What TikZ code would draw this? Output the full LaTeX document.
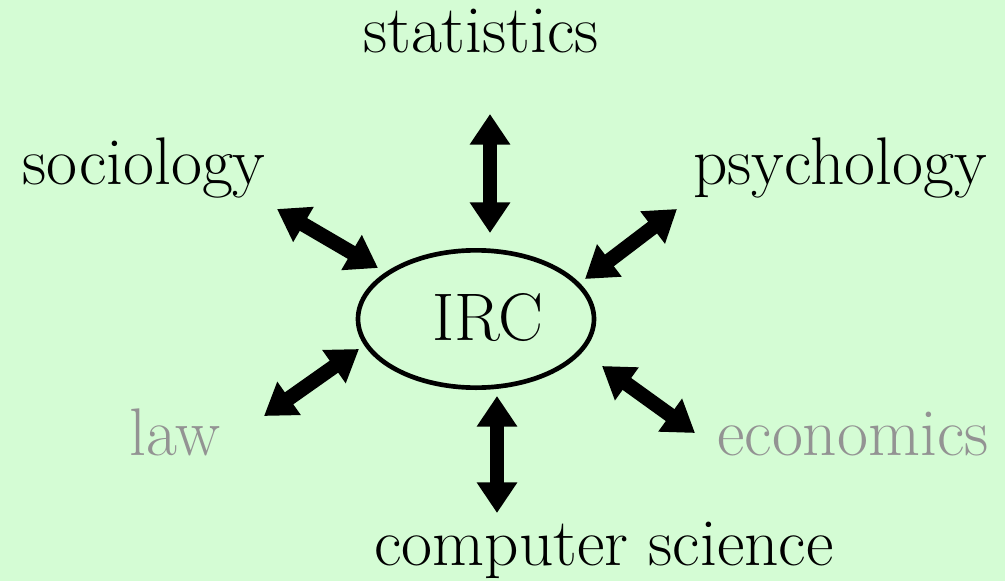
\documentclass[tikz,border=0pt]{standalone}
\usepackage{fontspec}
\usetikzlibrary{arrows.meta,shapes.geometric}
\definecolor{paper}{HTML}{D4FCD4}
\definecolor{faded}{HTML}{939393}
\tikzset{field/.style={font=\fontsize{50.5}{54}\selectfont,anchor=base,inner sep=0pt},dim/.style={field,text=faded},hub/.style={draw,ellipse,line width=3.5pt,minimum width=177pt,minimum height=103pt,inner sep=0pt},link/.style={{Triangle[length=23pt,width=29pt]}-{Triangle[length=23pt,width=29pt]},line width=11pt}}

\begin{document}
\begin{tikzpicture}[x=0.75pt,y=-0.75pt]
\fill[paper] (0,0) rectangle (1005,581);
\useasboundingbox (0,0) rectangle (1005,581);
\node[hub] (irc) at (476,319) {};
\node[field] (ircname) at (488,340) {IRC};
\node[field] (stat) at (481,53) {statistics};
\node[field] (soc) at (144,184) {sociology};
\node[field] (psy) at (840,184) {psychology};
\node[dim] (law) at (175,455) {law};
\node[dim] (eco) at (853,455) {economics};
\node[field] (cs) at (604,565) {computer science};
\coordinate (stat1) at (490,114);\coordinate (stat2) at (490,233);
\coordinate (soc1) at (277,209);\coordinate (soc2) at (378,268);
\coordinate (psy1) at (677,209);\coordinate (psy2) at (585,279);
\coordinate (law1) at (264,416);\coordinate (law2) at (359,349);
\coordinate (eco1) at (602,366);\coordinate (eco2) at (695,433);
\coordinate (cs1) at (497,396);\coordinate (cs2) at (497,513);
\draw[link] (stat1)--(stat2);\draw[link] (soc1)--(soc2);\draw[link] (psy1)--(psy2);
\draw[link] (law1)--(law2);\draw[link] (eco1)--(eco2);\draw[link] (cs1)--(cs2);
\end{tikzpicture}
\end{document}
